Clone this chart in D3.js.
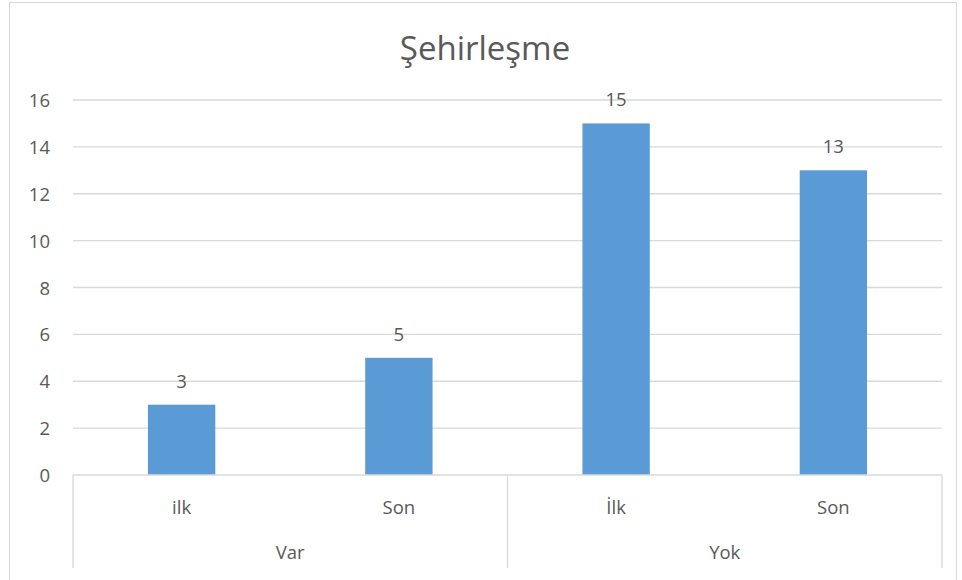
<!DOCTYPE html>
<html>
<head>
<meta charset="utf-8">
<script src="https://d3js.org/d3.v7.min.js"></script>
<style>
  body { margin: 0; background: #fff; }
  text { font-family: "Open Sans", "Liberation Sans", sans-serif; fill: #595959; }
</style>
</head>
<body>
<script>
  // data
  const groups = ["Var", "Yok"];
  const categories = ["ilk", "Son", "İlk", "Son"];
  const categoryGroup = [0, 0, 1, 1];
  const values = [3, 5, 15, 13];
  const yTicks = [0, 2, 4, 6, 8, 10, 12, 14, 16];
  const title = "Şehirleşme";

  const W = 962, H = 580;
  const plotLeft = 73, plotRight = 942, plotTop = 100, plotBottom = 475;
  const fs = 18.5;

  const svg = d3.select("body").append("svg")
    .attr("width", W).attr("height", H);

  // outer border
  svg.append("rect")
    .attr("x", 9.5).attr("y", 2.5)
    .attr("width", W - 15).attr("height", H + 10)
    .attr("fill", "none").attr("stroke", "#d9d9d9");

  const idx = categories.map((d, i) => i);
  const x = d3.scaleBand()
    .domain(idx)
    .range([plotLeft, plotRight])
    .paddingInner(0.69)
    .paddingOuter(0.345);
  const step = x.step();

  const y = d3.scaleLinear()
    .domain([0, 16])
    .range([plotBottom, plotTop]);

  // gridlines
  svg.append("g").selectAll("line")
    .data(yTicks.slice(1))
    .enter().append("line")
    .attr("x1", plotLeft).attr("x2", plotRight)
    .attr("y1", d => y(d)).attr("y2", d => y(d))
    .attr("stroke", "#d9d9d9").attr("stroke-width", 1.3);

  // y tick labels
  svg.append("g").selectAll("text")
    .data(yTicks)
    .enter().append("text")
    .attr("x", 50).attr("y", d => y(d) + 7)
    .attr("text-anchor", "end")
    .attr("font-size", fs)
    .text(d => d);

  // bars
  svg.append("g").selectAll("rect")
    .data(values)
    .enter().append("rect")
    .attr("x", (d, i) => x(i))
    .attr("width", x.bandwidth())
    .attr("y", d => y(d))
    .attr("height", d => plotBottom - y(d))
    .attr("fill", "#5b9bd5");

  // value labels
  svg.append("g").selectAll("text")
    .data(values)
    .enter().append("text")
    .attr("x", (d, i) => x(i) + x.bandwidth() / 2)
    .attr("y", d => y(d) - 17)
    .attr("text-anchor", "middle")
    .attr("font-size", fs)
    .text(d => d);

  // category axis
  const axis = svg.append("g").attr("stroke", "#d9d9d9").attr("stroke-width", 1.3);
  axis.append("line")
    .attr("x1", plotLeft).attr("x2", plotRight)
    .attr("y1", plotBottom).attr("y2", plotBottom);

  const groupBounds = groups.map((g, gi) => {
    const members = idx.filter(i => categoryGroup[i] === gi);
    const x0 = x(members[0]) - x.paddingInner() * step / 2;
    const x1 = x(members[members.length - 1]) + x.bandwidth() + x.paddingInner() * step / 2;
    return { name: g, x0: x0, x1: x1 };
  });
  const seps = [groupBounds[0].x0].concat(groupBounds.map(d => d.x1));
  axis.selectAll("line.sep")
    .data(seps)
    .enter().append("line")
    .attr("class", "sep")
    .attr("x1", d => d).attr("x2", d => d)
    .attr("y1", plotBottom).attr("y2", 568);

  svg.append("g").selectAll("text")
    .data(categories)
    .enter().append("text")
    .attr("x", (d, i) => x(i) + x.bandwidth() / 2)
    .attr("y", 514)
    .attr("text-anchor", "middle")
    .attr("font-size", fs)
    .text(d => d);

  svg.append("g").selectAll("text")
    .data(groupBounds)
    .enter().append("text")
    .attr("x", d => (d.x0 + d.x1) / 2)
    .attr("y", 559)
    .attr("text-anchor", "middle")
    .attr("font-size", fs)
    .text(d => d.name);

  // title
  svg.append("text")
    .attr("x", 485).attr("y", 60)
    .attr("text-anchor", "middle")
    .attr("font-size", 33)
    .text(title);
</script>
</body>
</html>
